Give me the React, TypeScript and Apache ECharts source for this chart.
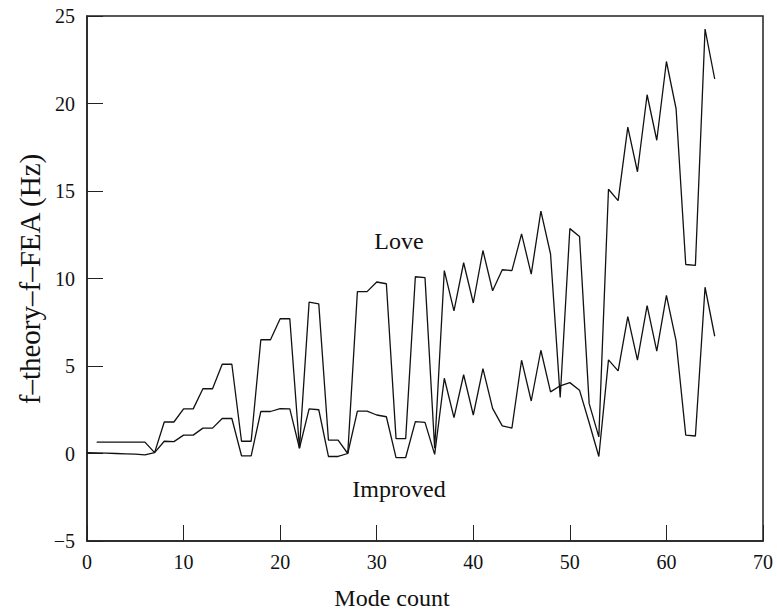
import React, { useEffect, useRef } from "react";
import * as echarts from "echarts";

const xTicks = [0, 10, 20, 30, 40, 50, 60, 70];
const yTicks = [-5, 0, 5, 10, 15, 20, 25];

const loveModes = Array.from({ length: 65 }, (_, i) => i + 1);
const loveValues = [
  0.65, 0.65, 0.65, 0.65, 0.65, 0.65, 0.05, 1.8, 1.8, 2.55,
  2.55, 3.7, 3.7, 5.1, 5.1, 0.7, 0.7, 6.5, 6.5, 7.7,
  7.7, 0.3, 8.65, 8.55, 0.77, 0.77, 0.0, 9.25, 9.25, 9.8,
  9.7, 0.85, 0.85, 10.1, 10.05, 0.3, 10.45, 8.15, 10.9, 8.6,
  11.6, 9.3, 10.5, 10.45, 12.55, 10.25, 13.85, 11.4, 3.2, 12.85,
  12.4, 2.85, 0.95, 15.1, 14.45, 18.65, 16.1, 20.5, 17.9, 22.4,
  19.7, 10.8, 10.75, 24.25, 21.4,
];

const improvedModes = Array.from({ length: 66 }, (_, i) => i);
const improvedValues = [
  0.05, 0.04, 0.02, 0.0, -0.02, -0.04, -0.08, 0.05, 0.7, 0.68,
  1.05, 1.05, 1.45, 1.45, 2.0, 2.0, -0.13, -0.13, 2.4, 2.4,
  2.57, 2.55, 0.3, 2.55, 2.5, -0.17, -0.17, 0.0, 2.42, 2.42,
  2.2, 2.1, -0.23, -0.23, 1.82, 1.78, -0.05, 4.3, 2.05, 4.5,
  2.2, 4.85, 2.58, 1.58, 1.45, 5.33, 3.0, 5.9, 3.52, 3.87,
  4.05, 3.62, 1.76, -0.17, 5.35, 4.72, 7.82, 5.33, 8.45, 5.85,
  9.03, 6.43, 1.05, 1.0, 9.5, 6.7,
];

const FONT = "Liberation Serif";

export default function App() {
  const ref = useRef<HTMLDivElement>(null);
  useEffect(() => {
    if (!ref.current) return;
    const chart = echarts.init(ref.current, null, { renderer: "svg" });
    const axisLine = { show: true, onZero: false, lineStyle: { color: "#222", width: 1.5 } };
    chart.setOption({
      animation: false,
      backgroundColor: "#fff",
      grid: {
        left: 87,
        right: 14,
        top: 16,
        bottom: 71,
        show: true,
        borderColor: "#222",
        borderWidth: 1.5,
      },
      xAxis: {
        type: "value",
        min: xTicks[0],
        max: xTicks[xTicks.length - 1],
        interval: 10,
        axisLine,
        axisTick: { show: true, inside: true, length: 16, lineStyle: { color: "#222", width: 1 } },
        axisLabel: { color: "#111", fontFamily: FONT, fontSize: 20, margin: 11 },
        splitLine: { show: false },
      },
      yAxis: {
        type: "value",
        min: yTicks[0],
        max: yTicks[yTicks.length - 1],
        interval: 5,
        axisLine,
        axisTick: { show: true, inside: true, length: 16, lineStyle: { color: "#222", width: 1 } },
        axisLabel: {
          color: "#111",
          fontFamily: FONT,
          fontSize: 20,
          margin: 12,
          formatter: (v: number) => (v < 0 ? "\u2212" + Math.abs(v) : String(v)),
        },
        splitLine: { show: false },
      },
      series: [
        {
          name: "Love",
          type: "line",
          data: loveModes.map((m, i) => [m, loveValues[i]]),
          showSymbol: false,
          lineStyle: { color: "#111", width: 1.3 },
        },
        {
          name: "Improved",
          type: "line",
          data: improvedModes.map((m, i) => [m, improvedValues[i]]),
          showSymbol: false,
          lineStyle: { color: "#111", width: 1.3 },
        },
      ],
      graphic: [
        {
          type: "text",
          x: 399,
          y: 241,
          style: { text: "Love", font: `24px '${FONT}'`, fill: "#111", textAlign: "center", textVerticalAlign: "middle" },
        },
        {
          type: "text",
          x: 399,
          y: 489,
          style: { text: "Improved", font: `24px '${FONT}'`, fill: "#111", textAlign: "center", textVerticalAlign: "middle" },
        },
        {
          type: "text",
          x: 392,
          y: 598,
          style: { text: "Mode count", font: `24px '${FONT}'`, fill: "#111", textAlign: "center", textVerticalAlign: "middle" },
        },
        {
          type: "text",
          x: 30,
          y: 279,
          rotation: Math.PI / 2,
          style: { text: "f\u2013theory\u2013f\u2013FEA (Hz)", font: `29px '${FONT}'`, fill: "#111", textAlign: "center", textVerticalAlign: "middle" },
        },
      ],
    });
    return () => chart.dispose();
  }, []);
  return <div ref={ref} style={{ position: "absolute", left: 0, top: 0, width: 777, height: 612 }} />;
}
